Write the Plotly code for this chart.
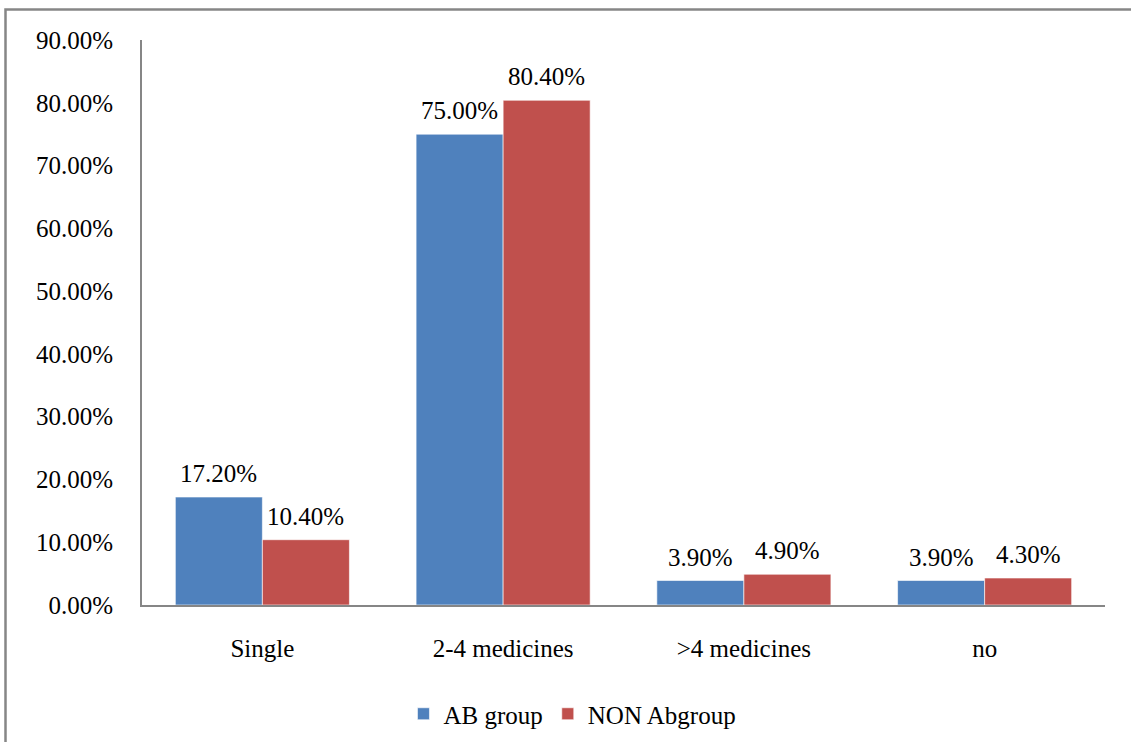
import plotly.graph_objects as go

categories = ["Single", "2-4 medicines", ">4 medicines", "no"]
ab_group = [17.2, 75.0, 3.9, 3.9]
non_ab_group = [10.4, 80.4, 4.9, 4.3]
y_ticks = [0, 10, 20, 30, 40, 50, 60, 70, 80, 90]

BLUE = "#4F81BD"
RED = "#C0504D"
AXIS = "#868686"
FONT = "Times New Roman, Liberation Serif, serif"
FS = 25

W, H = 1131, 742
L, R, T, B = 142, 26, 40, 137

fig = go.Figure()
fig.add_bar(x=categories, y=ab_group, name="AB group", marker_color=BLUE,
            marker_line=dict(color="rgba(255,255,255,0.6)", width=1))
fig.add_bar(x=categories, y=non_ab_group, name="NON Abgroup", marker_color=RED,
            marker_line=dict(color="rgba(255,255,255,0.6)", width=1))

# value labels above each bar
plot_w = W - L - R
bar_w = plot_w / len(categories) * (1 - 0.277) / 2
for series, dx in ((ab_group, -bar_w / 2), (non_ab_group, bar_w / 2)):
    for cat, v in zip(categories, series):
        fig.add_annotation(x=cat, y=v, text=f"{v:.2f}%", showarrow=False,
                           xshift=dx, yshift=8, yanchor="bottom",
                           font=dict(family=FONT, size=FS, color="#000"))

# outer frame of the chart
px = lambda x: (x - L) / plot_w
py = lambda y: (H - B - y) / (H - T - B)
fig.add_shape(type="rect", xref="paper", yref="paper",
              x0=px(5.5), x1=px(1140), y0=py(9.5), y1=py(760),
              line=dict(color=AXIS, width=2.5), layer="below")

fig.update_layout(
    width=W, height=H,
    margin=dict(l=L, r=R, t=T, b=B, autoexpand=False),
    paper_bgcolor="white", plot_bgcolor="white",
    barmode="group", bargap=0.277, bargroupgap=0,
    font=dict(family=FONT, size=FS, color="#000"),
    showlegend=True,
    legend=dict(orientation="h", x=0.447, xanchor="center", y=py(714), yanchor="middle",
                font=dict(family=FONT, size=FS), itemwidth=30, traceorder="normal"),
    xaxis=dict(showline=True, linecolor=AXIS, linewidth=2, ticks="",
               ticklabelstandoff=20, showgrid=False),
    yaxis=dict(range=[0, 90], tickvals=y_ticks, ticktext=[f"{t:.2f}%" for t in y_ticks],
               showline=True, linecolor=AXIS, linewidth=2, ticks="",
               showgrid=False, zeroline=False, ticklabelstandoff=22),
)

fig.write_html("out.html")
